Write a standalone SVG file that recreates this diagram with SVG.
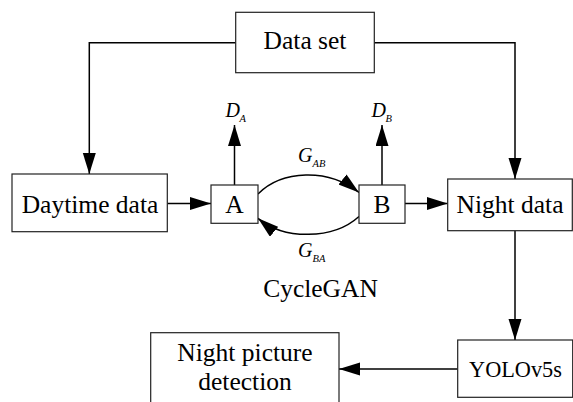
<svg xmlns="http://www.w3.org/2000/svg" width="573" height="402" viewBox="0 0 573 402">
<style>
.box{fill:#fff;stroke:#222;stroke-width:1.2}
.t{font-family:"Liberation Serif","Times New Roman",serif;font-size:25.5px;fill:#000;text-anchor:middle}
.it{font-family:"Liberation Serif","Times New Roman",serif;font-style:italic;fill:#000}
.c{fill:none;stroke:#000;stroke-width:1.5}
</style>
<defs>
<marker id="ah" markerUnits="userSpaceOnUse" markerWidth="22" markerHeight="14" refX="21" refY="6.5" orient="auto">
<path d="M0,0 L21,6.5 L0,13 z" fill="#000"/>
</marker>
</defs>
<rect width="573" height="402" fill="#fff"/>
<g id="connectors">
<path class="c" d="M235.7,42.7 H89.3 V174" marker-end="url(#ah)"/>
<path class="c" d="M374.3,42.7 H515 V179" marker-end="url(#ah)"/>
<path class="c" d="M167.3,203.5 H211" marker-end="url(#ah)"/>
<path class="c" d="M405,203.5 H447.7" marker-end="url(#ah)"/>
<path class="c" d="M234.5,185 V125" marker-end="url(#ah)"/>
<path class="c" d="M382,185 V125" marker-end="url(#ah)"/>
<path class="c" d="M258,194 C282,170 328,168 359,192.5" marker-end="url(#ah)"/>
<path class="c" d="M359,216.5 C333,240 284,240 258,218.3" marker-end="url(#ah)"/>
<path class="c" d="M515,231 V340" marker-end="url(#ah)"/>
<path class="c" d="M457.7,369 H339" marker-end="url(#ah)"/>
</g>
<g id="dataset">
<rect class="box" x="235.7" y="12.3" width="138.6" height="60.4"/>
<text class="t" x="305" y="48.5">Data set</text>
</g>
<g id="daytime">
<rect class="box" x="12" y="174" width="155.3" height="57.7"/>
<text class="t" x="90" y="212.5">Daytime data</text>
</g>
<g id="nodeA">
<rect class="box" x="211" y="185" width="47" height="38.3"/>
<text class="t" x="234.5" y="212.7">A</text>
</g>
<g id="nodeB">
<rect class="box" x="359" y="185" width="46" height="38.3"/>
<text class="t" x="382" y="212.7">B</text>
</g>
<g id="night">
<rect class="box" x="447.7" y="179" width="124.6" height="51.7"/>
<text class="t" x="510" y="213">Night data</text>
</g>
<g id="yolo">
<rect class="box" x="457.7" y="340" width="115" height="57.3"/>
<text class="t" x="515.5" y="376.7" style="font-size:22.3px">YOLOv5s</text>
</g>
<g id="nightpic">
<rect class="box" x="150.7" y="332.7" width="188.3" height="90"/>
<text class="t" x="245" y="361">Night picture</text>
<text class="t" x="245" y="390">detection</text>
</g>
<g id="labels">
<text class="it" x="225.5" y="116.7" font-size="20">D</text>
<text class="it" x="239.5" y="121.7" font-size="10.5">A</text>
<text class="it" x="371.5" y="116.7" font-size="20">D</text>
<text class="it" x="385.5" y="121.7" font-size="10.5">B</text>
<text class="it" x="298" y="161.7" font-size="20">G</text>
<text class="it" x="312.5" y="166.7" font-size="10.5">AB</text>
<text class="it" x="298" y="256.7" font-size="20">G</text>
<text class="it" x="312.5" y="262.3" font-size="10.5">BA</text>
<text class="t" x="320.5" y="296.5">CycleGAN</text>
</g>
</svg>
